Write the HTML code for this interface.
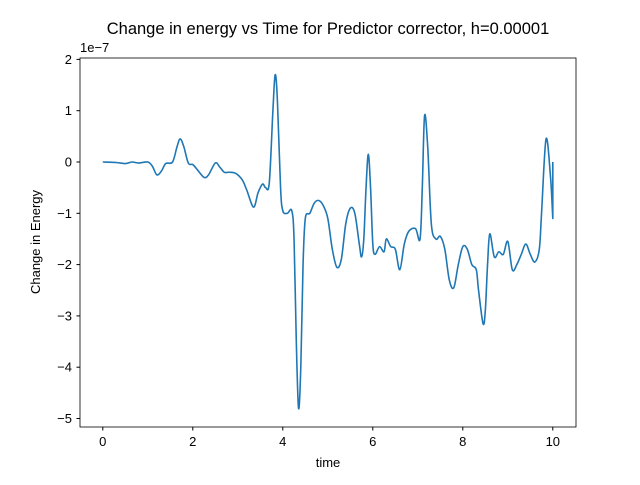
<!DOCTYPE html>
<html><head><meta charset="utf-8"><style>
body{margin:0;background:#fff;}
svg{font-family:"Liberation Sans","DejaVu Sans",sans-serif;}
</style></head><body>
<svg id="chart" width="640" height="480" viewBox="0 0 640 480">
<rect width="640" height="480" fill="#fff"/>
<text x="328" y="34" font-size="16.5" text-anchor="middle">Change in energy vs Time for Predictor corrector, h=0.00001</text>
<g id="axes"></g>
<rect x="80" y="58" width="496" height="369" fill="none" stroke="#000" stroke-width="0.8"/>
<text x="328" y="467" font-size="13" text-anchor="middle">time</text>
<text transform="translate(40,242) rotate(-90)" font-size="13" text-anchor="middle">Change in Energy</text>
<text x="80" y="52" font-size="13">1e−7</text>
</svg>
<script>
const times=[0,0.3,0.5,0.65,0.8,1.0,1.1,1.2,1.3,1.4,1.55,1.65,1.72,1.8,1.9,2.0,2.1,2.25,2.35,2.5,2.6,2.7,2.8,2.95,3.1,3.2,3.35,3.45,3.55,3.62,3.7,3.78,3.83,3.88,3.95,4.0,4.1,4.2,4.25,4.3,4.35,4.4,4.45,4.5,4.6,4.7,4.8,4.9,5.0,5.1,5.2,5.3,5.4,5.5,5.6,5.7,5.75,5.8,5.85,5.9,5.95,6.0,6.05,6.15,6.25,6.3,6.4,6.5,6.6,6.7,6.8,6.95,7.05,7.1,7.15,7.22,7.3,7.4,7.5,7.6,7.7,7.8,7.9,8.0,8.1,8.2,8.3,8.35,8.45,8.5,8.55,8.6,8.7,8.8,8.9,9.0,9.1,9.2,9.3,9.4,9.5,9.6,9.7,9.75,9.85,9.95,10.0,10.0];
const energy=[0,-0.01,-0.03,0.0,-0.02,0.0,-0.08,-0.25,-0.18,-0.03,0.0,0.3,0.45,0.3,-0.02,-0.05,-0.15,-0.3,-0.25,-0.02,-0.1,-0.2,-0.2,-0.22,-0.35,-0.55,-0.88,-0.6,-0.43,-0.5,-0.4,1.0,1.7,1.2,-0.5,-0.95,-1.0,-0.95,-1.5,-3.5,-4.8,-4.0,-2.0,-1.1,-1.0,-0.8,-0.75,-0.85,-1.1,-1.7,-2.05,-1.9,-1.2,-0.9,-1.0,-1.6,-1.85,-1.5,-0.5,0.15,-0.5,-1.6,-1.8,-1.65,-1.75,-1.5,-1.65,-1.7,-2.1,-1.6,-1.35,-1.3,-1.5,-0.5,0.9,0.3,-1.2,-1.5,-1.45,-1.7,-2.3,-2.45,-2.0,-1.65,-1.7,-2.0,-2.1,-2.5,-3.15,-2.9,-2.0,-1.4,-1.85,-1.75,-1.8,-1.55,-2.1,-2.0,-1.8,-1.6,-1.8,-1.95,-1.7,-1.0,0.45,-0.3,-1.1,0.0];
const xTicks=[0,2,4,6,8,10];
const yTicks=[2,1,0,-1,-2,-3,-4,-5];
const xs=t=>102.8+t*45;
const ys=v=>162-v*51.3;
const NS="http://www.w3.org/2000/svg";
const g=document.getElementById('axes');
xTicks.forEach(t=>{
  const l=document.createElementNS(NS,'line');
  l.setAttribute('x1',xs(t));l.setAttribute('x2',xs(t));l.setAttribute('y1',427);l.setAttribute('y2',430.5);l.setAttribute('stroke','#000');
  
  
  g.appendChild(l);
  const tx=document.createElementNS(NS,'text');
  tx.setAttribute('x',xs(t));tx.setAttribute('y',446);tx.setAttribute('font-size','13');tx.setAttribute('text-anchor','middle');
  tx.textContent=t;
  
  
  g.appendChild(tx);
});
yTicks.forEach(v=>{
  const l=document.createElementNS(NS,'line');
  l.setAttribute('x1',76.5);l.setAttribute('x2',80);l.setAttribute('y1',ys(v));l.setAttribute('y2',ys(v));l.setAttribute('stroke','#000');
  
  
  g.appendChild(l);
  const tx=document.createElementNS(NS,'text');
  tx.setAttribute('x',72);tx.setAttribute('y',ys(v)+4.5);tx.setAttribute('font-size','13');tx.setAttribute('text-anchor','end');
  tx.textContent=(v<0?'\u2212'+(-v):v);
  
  
  g.appendChild(tx);
});
const pts=times.map((t,i)=>[xs(t),ys(energy[i])]);
let d='M'+pts[0][0]+','+pts[0][1];
for(let i=0;i<pts.length-1;i++){
  const p0=pts[Math.max(i-1,0)],p1=pts[i],p2=pts[i+1],p3=pts[Math.min(i+2,pts.length-1)];
  if(p1[0]===p2[0]){d+=' L'+p2[0]+','+p2[1];continue;}
  const c1=[p1[0]+(p2[0]-p0[0])/6,p1[1]+(p2[1]-p0[1])/6];
  const c2=[p2[0]-(p3[0]-p1[0])/6,p2[1]-(p3[1]-p1[1])/6];
  if(p3[0]===p2[0]){c2[0]=p2[0]-(p2[0]-p1[0])/3;c2[1]=p2[1]-(p2[1]-p1[1])/3;}
  d+=' C'+c1[0]+','+c1[1]+' '+c2[0]+','+c2[1]+' '+p2[0]+','+p2[1];
}
const p=document.createElementNS(NS,'path');
p.setAttribute('d',d);
p.setAttribute('fill','none');p.setAttribute('stroke','#1f77b4');p.setAttribute('stroke-width','1.6');p.setAttribute('stroke-linejoin','round');


g.appendChild(p);
</script>
</body></html>
